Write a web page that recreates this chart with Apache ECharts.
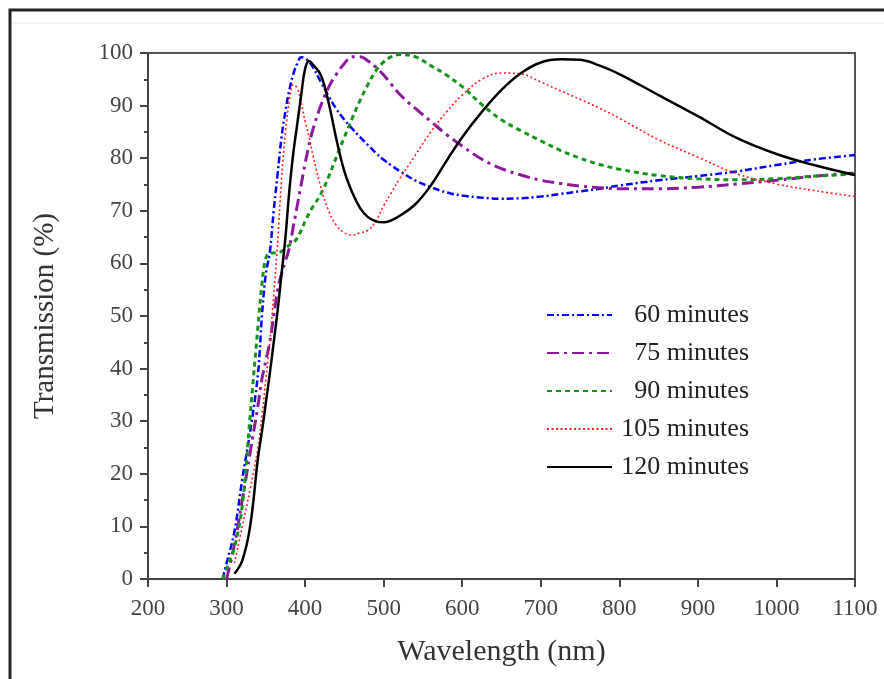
<!DOCTYPE html>
<html>
<head>
<meta charset="utf-8">
<script src="https://cdn.jsdelivr.net/npm/echarts@6/dist/echarts.min.js"></script>
<style>html,body{margin:0;padding:0;background:#fff;}#c{width:884px;height:679px;}</style>
</head>
<body>
<div id="c"></div>
<script>
const wavelength = [295,300,310,320,330,340,345,350,355,360,365,370,375,380,385,390,395,400,405,410,420,430,440,450,460,470,480,490,500,510,520,540,560,580,600,625,650,675,700,725,750,775,800,850,900,950,1000,1050,1100];
const t60  = [0,3,9,19,28,39,50,58,62,70,77,84,89,93,96,98,99.2,99,98.3,97.3,94.5,91.8,89.3,87.3,85.6,84,82.5,81,79.7,78.6,77.6,75.8,74.5,73.5,72.9,72.5,72.3,72.4,72.7,73.2,73.7,74.2,74.8,75.8,76.6,77.5,78.7,79.8,80.6];
const t75  = [null,0,6.5,15,24,33,38,41.5,45,50,55,58,60.5,63,67,71,75,79,82.5,85.5,90,93.5,96,98,99.3,99.3,98.5,97.3,95.8,94,92.2,89.5,87,84.5,82.3,79.8,78,76.8,75.8,75.2,74.7,74.4,74.2,74.2,74.5,75.1,75.8,76.6,77.2];
const t90  = [0,2,6,14,31,48,56,61,62,62,62,62.3,62.8,63.5,64,64.8,66.3,68,69.5,70.8,73.2,76.5,80.3,84,87.6,91,94,96.6,98.3,99.3,99.7,99.3,97.6,95.8,93.6,90.2,87.3,85.2,83.3,81.5,80,78.8,77.9,76.7,76.1,75.9,76.1,76.6,77];
const t105 = [null,null,3,10,17,25,31,38,45,54,64,76,85,91,94,93.3,90.5,87,84,80.5,74.5,70,67.2,65.8,65.4,65.8,66.3,68,71,73.5,76,80.5,85,88.8,92,95,96.2,96,94.5,92.8,91.2,89.5,87.6,83.5,80.2,77,75.1,73.8,72.7];
const t120 = [null,null,1,3.5,10,23,28,33.5,39,45,51,58,65,74,81,86.5,92,97,98.5,97.8,95.8,90.5,83.5,77.5,73.5,70.5,68.8,68,67.8,68.2,69,71.2,74.8,79.5,84,88.8,93,96.2,98.2,98.8,98.7,97.6,96,92,88,83.8,80.8,78.6,76.8];
const seriesNames = ['60 minutes','75 minutes','90 minutes','105 minutes','120 minutes'];
const xTicks = [200,300,400,500,600,700,800,900,1000,1100];
const yTicks = [0,10,20,30,40,50,60,70,80,90,100];

const styles = [
  {color:'#0000ff', width:2.5, type:[7,3,2,3]},
  {color:'#8b1a9b', width:3, type:[12,5,3,5]},
  {color:'#15941a', width:3, type:[5,4]},
  {color:'#ff2020', width:1.6, type:[2,2.5]},
  {color:'#000000', width:2.5, type:'solid'}
];
const dataSets = [t60,t75,t90,t105,t120];
const font = '"Liberation Serif", "Times New Roman", serif';

const chart = echarts.init(document.getElementById('c'));
chart.setOption({
  animation:false,
  backgroundColor:'#fff',
  graphic:[
    {type:'rect', shape:{x:10,y:10,width:900,height:700}, style:{fill:'none', stroke:'#222', lineWidth:3}, z:-1},
    {type:'line', shape:{x1:12,y1:23,x2:884,y2:23}, style:{stroke:'#e6e6e6', lineWidth:1}, z:-1}
  ],
  grid:{left:148, right:29, top:53, bottom:100, show:true, borderColor:'#555', borderWidth:2, containLabel:false},
  legend:{
    orient:'vertical', left:541, top:297, itemGap:12, itemWidth:65, itemHeight:14,
    itemStyle:{opacity:0},
    textStyle:{fontFamily:font, fontSize:26, color:'#222', lineHeight:26,
      rich:{r:{fontFamily:font, fontSize:26, color:'#222', width:132, align:'right', lineHeight:26}}},
    formatter: n => '{r|' + n + '}',
    data:seriesNames
  },
  xAxis:{
    type:'value', min:200, max:1100, interval:100,
    name:'Wavelength (nm)', nameLocation:'middle', nameGap:58,
    nameTextStyle:{fontFamily:font, fontSize:30, color:'#333'},
    axisLine:{show:true, onZero:false, lineStyle:{color:'#444', width:2}},
    axisTick:{show:true, inside:false, length:8, lineStyle:{color:'#444', width:2}},
    axisLabel:{fontFamily:font, fontSize:23, color:'#444', margin:18,
      formatter:v => xTicks.includes(v) ? String(v) : ''},
    splitLine:{show:false}
  },
  yAxis:{
    type:'value', min:0, max:100, interval:10,
    name:'Transmission (%)', nameLocation:'middle', nameGap:88,
    nameTextStyle:{fontFamily:font, fontSize:29, color:'#333'},
    axisLine:{show:true, onZero:false, lineStyle:{color:'#444', width:2}},
    axisTick:{show:true, inside:false, length:8, lineStyle:{color:'#444', width:2}},
    minorTick:{show:true, splitNumber:2, length:4, lineStyle:{color:'#444', width:2}},
    axisLabel:{fontFamily:font, fontSize:23, color:'#444', margin:15,
      formatter:v => yTicks.includes(v) ? String(v) : ''},
    splitLine:{show:false}
  },
  series: seriesNames.map((n,i)=>({
    name:n, type:'line', smooth:0.4, symbol:'none', showSymbol:false, connectNulls:false,
    lineStyle:{color:styles[i].color, width:styles[i].width, type:styles[i].type},
    itemStyle:{color:styles[i].color},
    data: wavelength.map((w,k)=> dataSets[i][k]==null ? null : [w, dataSets[i][k]]).filter(d=>d!==null),
    z: 2+i
  }))
});
</script>
</body>
</html>
